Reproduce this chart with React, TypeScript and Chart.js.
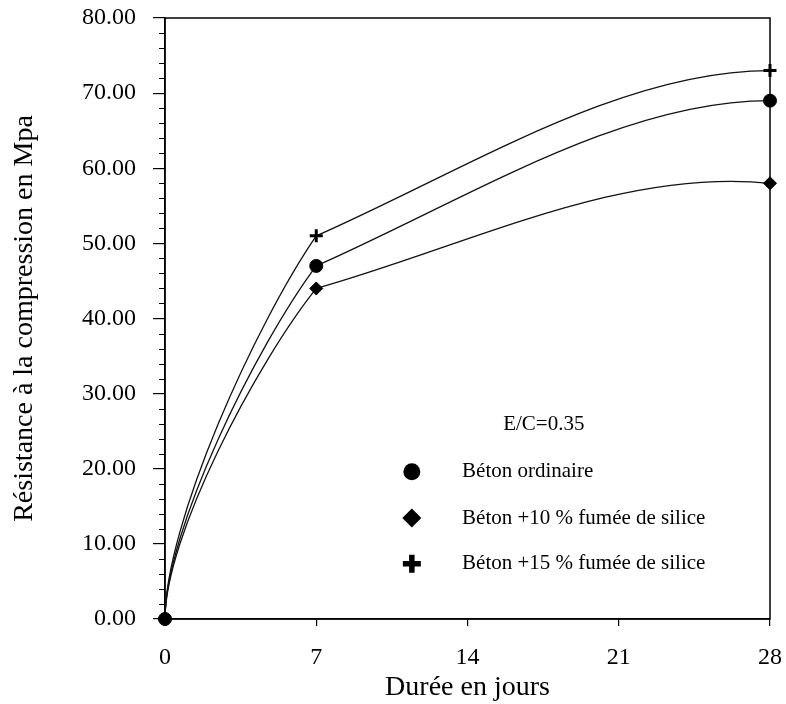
import React, { useEffect, useRef } from 'react';
import { Chart, registerables } from 'chart.js';

Chart.register(...registerables);

// ---- data ----
const DAYS = [0, 7, 28];
const BETON_ORDINAIRE = [0, 47, 69];
const BETON_FS10 = [0, 44, 58];
const BETON_FS15 = [0, 51, 73];
const SERIES_LABELS = [
  'Béton ordinaire',
  'Béton +10 % fumée de silice',
  'Béton +15 % fumée de silice',
];
const X_TICKS = [0, 7, 14, 21, 28];
const Y_TICKS = [0, 10, 20, 30, 40, 50, 60, 70, 80];
const NOTE = 'E/C=0.35';
const X_TITLE = 'Durée en jours';
const Y_TITLE = 'Résistance à la compression en Mpa';

const FONT = '"Liberation Serif", "Times New Roman", serif';

const toPoints = (ys: number[]) => DAYS.map((d, i) => ({ x: d, y: ys[i] }));

// smooth curves through the points (drawn beneath the markers)
const curvePlugin = {
  id: 'curves',
  beforeDatasetsDraw(chart: any) {
    const ctx = chart.ctx;
    chart.data.datasets.forEach((ds: any, i: number) => {
      const meta = chart.getDatasetMeta(i);
      const pts = meta.data.map((p: any) => ({ x: p.x, y: p.y }));
      if (pts.length < 2) return;
      const bulge = ds.endBulge || 0;
      ctx.save();
      ctx.beginPath();
      ctx.lineWidth = 1.3;
      ctx.strokeStyle = '#111';
      ctx.moveTo(pts[0].x, pts[0].y);
      for (let k = 1; k < pts.length; k++) {
        const a = pts[k - 1];
        const b = pts[k];
        const dx = b.x - a.x;
        const dy = b.y - a.y;
        let c1x, c1y, c2x, c2y;
        if (k === 1) {
          c1x = a.x; c1y = a.y + 0.25 * dy;
          c2x = b.x - 0.4 * dx; c2y = b.y - 0.23 * dy;
        } else {
          c1x = a.x + 0.33 * dx; c1y = a.y + 0.4 * dy;
          c2x = b.x - 0.33 * dx; c2y = b.y + bulge * dy;
        }
        ctx.bezierCurveTo(c1x, c1y, c2x, c2y, b.x, b.y);
      }
      ctx.stroke();
      ctx.restore();
    });
  },
};

// frame + minor ticks
const framePlugin = {
  id: 'frame',
  beforeDatasetsDraw(chart: any) {
    const { ctx, chartArea: a } = chart;
    const ys = chart.scales.y;
    ctx.save();
    ctx.strokeStyle = '#000';
    ctx.lineWidth = 1.5;
    ctx.strokeRect(a.left, a.top, a.right - a.left, a.bottom - a.top);
    ctx.lineWidth = 1.1;
    ctx.beginPath();
    for (let v = ys.min; v <= ys.max; v += 2) {
      if (v % 10 === 0) continue;
      const py = Math.round(ys.getPixelForValue(v)) + 0.5;
      ctx.moveTo(a.left - 6, py);
      ctx.lineTo(a.left, py);
    }
    ctx.stroke();
    ctx.restore();
  },
};

// inner legend + note
const legendPlugin = {
  id: 'innerLegend',
  afterDatasetsDraw(chart: any) {
    const { ctx, chartArea: a } = chart;
    const W = a.right - a.left;
    const H = a.bottom - a.top;
    ctx.save();
    ctx.fillStyle = '#000';
    ctx.strokeStyle = '#000';
    ctx.font = `21px ${FONT}`;
    ctx.textBaseline = 'middle';
    ctx.textAlign = 'left';
    ctx.fillText(NOTE, a.left + 0.559 * W, a.top + 0.677 * H);
    const mx = a.left + 0.408 * W;
    const tx = a.left + 0.491 * W;
    const rows = [0.755, 0.832, 0.908];
    chart.data.datasets.forEach((ds: any, i: number) => {
      const y = a.top + rows[i] * H;
      ctx.beginPath();
      if (ds.pointStyle === 'circle') {
        ctx.arc(mx, y, 8.5, 0, Math.PI * 2);
        ctx.fill();
      } else if (ds.pointStyle === 'rectRot') {
        const r = 9.5;
        ctx.moveTo(mx - r, y);
        ctx.lineTo(mx, y - r);
        ctx.lineTo(mx + r, y);
        ctx.lineTo(mx, y + r);
        ctx.closePath();
        ctx.fill();
      } else {
        const r = 9;
        ctx.lineWidth = 5.5;
        ctx.moveTo(mx - r, y);
        ctx.lineTo(mx + r, y);
        ctx.moveTo(mx, y - r);
        ctx.lineTo(mx, y + r);
        ctx.stroke();
      }
      ctx.fillText(ds.label, tx, y);
    });
    ctx.restore();
  },
};

export default function App() {
  const canvasRef = useRef<HTMLCanvasElement | null>(null);

  useEffect(() => {
    document.body.style.margin = '0';
    const canvas = canvasRef.current;
    if (!canvas) return;
    Chart.defaults.font.family = FONT;
    Chart.defaults.color = '#000';

    const chart = new Chart(canvas, {
      type: 'scatter',
      data: {
        datasets: [
          {
            label: SERIES_LABELS[0],
            data: toPoints(BETON_ORDINAIRE),
            showLine: false,
            pointStyle: 'circle',
            pointRadius: 6.5,
            pointBackgroundColor: '#000',
            pointBorderColor: '#000',
            pointBorderWidth: 1,
            clip: false,
            endBulge: 0,
          } as any,
          {
            label: SERIES_LABELS[1],
            data: toPoints(BETON_FS10),
            showLine: false,
            pointStyle: 'rectRot',
            pointRadius: 6.5,
            pointBackgroundColor: '#000',
            pointBorderColor: '#000',
            pointBorderWidth: 1,
            clip: false,
            endBulge: 0.15,
          } as any,
          {
            label: SERIES_LABELS[2],
            data: toPoints(BETON_FS15),
            showLine: false,
            pointStyle: 'cross',
            pointRadius: 6.5,
            pointBackgroundColor: '#000',
            pointBorderColor: '#000',
            pointBorderWidth: 3,
            clip: false,
            endBulge: 0,
          } as any,
        ],
      },
      options: {
        animation: false,
        responsive: true,
        maintainAspectRatio: false,
        layout: { autoPadding: false, padding: { top: 18, right: 16, bottom: 0, left: 0 } },
        plugins: {
          legend: { display: false },
          tooltip: { enabled: false },
        },
        scales: {
          x: {
            type: 'linear',
            min: X_TICKS[0],
            max: X_TICKS[X_TICKS.length - 1],
            afterBuildTicks: (scale: any) => {
              scale.ticks = X_TICKS.map((v) => ({ value: v }));
            },
            afterFit: (scale: any) => {
              scale.height = 85;
              scale.paddingLeft = 0;
              scale.paddingRight = 0;
              scale.paddingTop = 0;
              scale.paddingBottom = 0;
            },
            ticks: {
              font: { size: 24, family: FONT },
              color: '#000',
              padding: 17,
              maxRotation: 0,
              callback: (v: any) => String(v),
            },
            grid: {
              drawOnChartArea: false,
              drawTicks: true,
              tickLength: 7,
              color: '#000',
              lineWidth: 1.2,
            },
            border: { display: true, color: '#000', width: 1.5 },
            title: {
              display: true,
              text: X_TITLE,
              font: { size: 28, family: FONT },
              color: '#000',
              padding: { top: 2, bottom: 0 },
            },
          },
          y: {
            type: 'linear',
            min: Y_TICKS[0],
            max: Y_TICKS[Y_TICKS.length - 1],
            afterBuildTicks: (scale: any) => {
              scale.ticks = Y_TICKS.map((v) => ({ value: v }));
            },
            afterFit: (scale: any) => {
              scale.width = 165;
              scale.paddingLeft = 0;
              scale.paddingRight = 0;
              scale.paddingTop = 0;
              scale.paddingBottom = 0;
            },
            ticks: {
              font: { size: 24, family: FONT },
              color: '#000',
              padding: 17,
              callback: (v: any) => Number(v).toFixed(2),
            },
            grid: {
              drawOnChartArea: false,
              drawTicks: true,
              tickLength: 12,
              color: '#000',
              lineWidth: 1.2,
            },
            border: { display: true, color: '#000', width: 1.5 },
            title: {
              display: true,
              text: Y_TITLE,
              font: { size: 28, family: FONT },
              color: '#000',
              padding: { top: 8, bottom: 0 },
            },
          },
        },
      } as any,
      plugins: [framePlugin, curvePlugin, legendPlugin],
    });

    return () => chart.destroy();
  }, []);

  return (
    <div style={{ width: 786, height: 704, position: 'relative' }}>
      <canvas ref={canvasRef} />
    </div>
  );
}
